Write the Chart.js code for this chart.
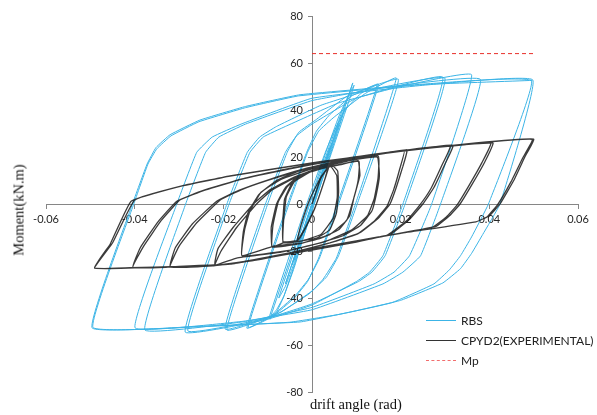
<!DOCTYPE html>
<html lang="en">
<head>
  <meta charset="UTF-8">
  <title>Moment vs drift angle</title>
  <script src="https://cdn.jsdelivr.net/npm/chart.js"></script>
  <style>
    body { margin: 0; background: #fff; }
    .wrap { position: relative; width: 597px; height: 415px; }
    .ytitle, .xtitle {
      position: absolute;
      font-family: "Liberation Serif", "DejaVu Serif", serif;
      font-size: 14.5px;
      color: #111;
      white-space: nowrap;
    }
    .ytitle { left: 19px; top: 210px; transform: translate(-50%, -50%) rotate(-90deg); }
    .xtitle { left: 310px; top: 396px; }
    .legend { position: absolute; left: 426px; top: 304px; font-family: Lato, "Liberation Sans", sans-serif; font-size: 12px; color: #222; }
    .legend div { height: 33px; display: flex; align-items: center; margin-top: -13px; }
    .legend div:first-child { margin-top: 0; }
    .legend span.line { display: inline-block; width: 30px; margin-right: 5px; border-top: 1px solid; }
  </style>
</head>
<body>
  <div class="wrap">
    <canvas id="chart" width="597" height="415"></canvas>
    <div class="ytitle">Moment(kN.m)</div>
    <div class="xtitle">drift angle (rad)</div>
    <div class="legend">
      <div><span class="line" style="border-color:#3cb4e6"></span>RBS</div>
      <div><span class="line" style="border-color:#333"></span>CPYD2(EXPERIMENTAL)</div>
      <div><span class="line" style="border-top:1px dashed #f26d6d"></span>Mp</div>
    </div>
  </div>

  <script>
    // RBS (blue) – [drift angle, moment], cycle by cycle
    const rbsSmall = [[0, 0], [0.004, 24], [-0.004, -24], [0.0045, 26], [-0.0045, -26], [0.006, 34], [-0.006, -34],
      [0.005, 29], [0.0065, 37], [0.0075, 41], [0.0005, 0], [-0.004, -25], [-0.006, -35], [-0.0075, -40]];
    const rbs010 = [[-0.0005, 0], [0.004, 25], [0.0065, 38], [0.008, 45], [0.0092, 51.5],
      [0.0003, 0], [-0.004, -27], [-0.0065, -40], [-0.008, -46], [-0.0095, -49],
      [-0.0007, 0], [0.0035, 24], [0.006, 37], [0.0078, 44.5], [0.0095, 50.5],
      [0.0005, 0], [-0.0038, -25], [-0.0063, -39], [-0.008, -45], [-0.0097, -48.5]];
    const rbs015 = [[-0.0012, 0], [0.003, 22], [0.005, 31], [0.0075, 40], [0.011, 47], [0.0147, 50.6],
      [0.0057, 0], [0.0015, -23], [-0.001, -33], [-0.004, -40], [-0.009, -48], [-0.0147, -52.8],
      [-0.0055, 0], [-0.0012, 22], [0.001, 31], [0.004, 38], [0.009, 46], [0.015, 51],
      [0.006, 0], [0.0017, -23], [-0.0008, -32], [-0.0038, -39], [-0.009, -47.5], [-0.0144, -52.5]];
    const rbs020 = [[-0.0052, 0], [-0.001, 22], [0.0015, 31], [0.005, 37], [0.012, 47], [0.019, 53.6],
      [0.0098, 0], [0.0055, -23], [0.0025, -32], [-0.0005, -38], [-0.008, -47], [-0.0192, -53.6],
      [-0.01, 0], [-0.0056, 22], [-0.003, 30.5], [0.001, 36], [0.008, 46], [0.0195, 53],
      [0.0102, 0], [0.006, -22], [0.0033, -31], [0.0, -37], [-0.007, -46], [-0.0196, -53.2]];
    const rbs030 = [[-0.0105, 0], [-0.006, 22], [-0.0035, 29], [0.0, 34], [0.01, 45], [0.0295, 54],
      [0.0205, 0], [0.016, -22], [0.013, -29], [0.01, -33], [0.0, -43], [-0.01, -49], [-0.0286, -54.5],
      [-0.0192, 0], [-0.0146, 22], [-0.0118, 28.5], [-0.008, 33], [0.002, 42], [0.013, 48.5], [0.03, 53.5],
      [0.021, 0], [0.0165, -22], [0.0135, -29], [0.0105, -33], [0.0, -42.5], [-0.01, -48.5], [-0.028, -54]];
    const rbs040 = [[-0.0187, 0], [-0.014, 22], [-0.011, 28.5], [-0.006, 33], [0.006, 43], [0.02, 50], [0.036, 55],
      [0.027, 0], [0.022, -22], [0.0185, -29], [0.014, -34], [0.0, -44], [-0.015, -50], [-0.0377, -53.6],
      [-0.0285, 0], [-0.024, 22], [-0.021, 28.5], [-0.015, 34], [0.0, 44], [0.018, 50], [0.038, 53],
      [0.029, 0], [0.0245, -22], [0.0205, -29], [0.016, -34], [0.0, -45], [-0.016, -50], [-0.0399, -52.7]];
    const rbs050 = [[-0.0305, 0], [-0.026, 22], [-0.0225, 28.5], [-0.016, 34], [0.0, 45], [0.025, 50.5], [0.0498, 52.8],
      [0.0424, 0], [0.0385, -13], [0.036, -21], [0.0335, -27.5], [0.0295, -33.6], [0.02, -41], [0.0086, -46], [-0.0027, -50.2], [-0.025, -52], [-0.0496, -52.7],
      [-0.0405, 0], [-0.0372, 17], [-0.0352, 24], [-0.032, 29.5], [-0.0253, 35.7], [-0.015, 41.5], [-0.0027, 46.5], [0.025, 51], [0.0495, 52.4],
      [0.0398, 0], [0.036, -14], [0.0335, -22], [0.031, -28], [0.0275, -34], [0.018, -42], [0.006, -47], [-0.005, -50.3], [-0.025, -52.2], [-0.0494, -52.5],
      [-0.0402, 0], [-0.037, 17], [-0.035, 23.5], [-0.0318, 29], [-0.0255, 35], [-0.015, 41], [-0.003, 46], [0.025, 50.8], [0.0497, 52.6]];

    // CPYD2 experimental (black)
    const cpydSmall = [[0, 0], [0.002, 11], [0.0038, 16], [0.003, 11], [0.0008, -1], [-0.0015, -10], [-0.0034, -16],
      [-0.0025, -9], [-0.0005, 2], [0.002, 11.5], [0.0036, 15.5], [0.0028, 10], [0.0006, -2], [-0.0017, -11], [-0.0032, -15.5]];
    const cpyd006 = [[-0.0065, -16], [-0.0066, -8], [-0.0062, 2], [-0.0045, 9], [-0.0025, 12.5], [0.001, 15], [0.0045, 16.5],
      [0.0058, 14], [0.006, 5], [0.0055, -4], [0.004, -11], [0.001, -14.5], [-0.003, -16], [-0.0065, -16.5],
      [-0.0064, -7], [-0.0058, 3], [-0.004, 9.5], [0.0, 14], [0.0042, 16], [0.0056, 12], [0.0057, 3], [0.0048, -6], [0.002, -13], [-0.0025, -15.8], [-0.0062, -16.3]];
    const cpyd010 = [[-0.009, -18.3], [-0.0092, -10], [-0.008, 0], [-0.006, 7], [-0.003, 12], [0.002, 15], [0.007, 17], [0.0104, 18.5],
      [0.0108, 12], [0.0095, 3], [0.0085, -5], [0.006, -11], [0.002, -14.5], [-0.003, -17], [-0.009, -18.3],
      [-0.0088, -9], [-0.0076, 1], [-0.0055, 7.5], [-0.002, 12.5], [0.003, 15.5], [0.0106, 18.2],
      [0.0104, 10], [0.0092, 1], [0.0078, -7], [0.004, -13], [-0.002, -16.5], [-0.0088, -18]];
    const cpyd015 = [[-0.0158, -22], [-0.0155, -12], [-0.0145, -4], [-0.012, 4], [-0.008, 10], [-0.003, 14], [0.004, 17], [0.0147, 20],
      [0.0152, 12], [0.0145, 4], [0.0135, -3], [0.011, -9], [0.007, -13.5], [0.001, -17], [-0.006, -20], [-0.0158, -22],
      [-0.0152, -11], [-0.014, -3], [-0.0115, 5], [-0.007, 10.5], [0.0, 15], [0.0149, 20.5],
      [0.0149, 11], [0.014, 2], [0.0125, -5], [0.009, -11], [0.003, -16], [-0.007, -20.5], [-0.017, -23]];
    const cpyd020 = [[-0.0219, -26], [-0.0205, -20], [-0.017, -10], [-0.0125, 0], [-0.009, 6], [-0.004, 11], [0.003, 16], [0.012, 20], [0.0214, 23],
      [0.0205, 16], [0.019, 7], [0.0176, 0], [0.015, -6], [0.011, -12], [0.005, -16], [-0.002, -19.5], [-0.012, -23.5], [-0.0219, -26],
      [-0.0212, -19], [-0.0178, -10], [-0.0132, 0], [-0.0095, 6], [-0.004, 11.5], [0.003, 16.2], [0.012, 20.2], [0.0208, 22.8],
      [0.0198, 15], [0.0184, 6], [0.0169, -1], [0.0142, -7], [0.0105, -12.5], [0.004, -16.5], [-0.003, -20], [-0.013, -24], [-0.0224, -26.3]];
    const cpyd030 = [[-0.032, -26.8], [-0.03, -18], [-0.026, -8], [-0.0207, 1.7], [-0.016, 6], [-0.01, 10], [-0.002, 14.5], [0.008, 19], [0.02, 22.5], [0.0318, 25],
      [0.03, 17], [0.0275, 7], [0.025, 0], [0.022, -6.5], [0.0176, -13], [0.01, -16], [0.0, -19.5], [-0.0185, -25.5], [-0.032, -26.8],
      [-0.0308, -18.5], [-0.027, -8.5], [-0.0215, 1.2], [-0.0165, 5.8], [-0.01, 10.2], [-0.002, 14.8], [0.008, 19.2], [0.02, 22.7], [0.0312, 24.8],
      [0.0293, 16.5], [0.0268, 6.5], [0.0243, -0.5], [0.0214, -7], [0.017, -13.2], [0.01, -16.2], [0.0, -19.6], [-0.0185, -25.6], [-0.0325, -26.9]];
    const cpyd040 = [[-0.0404, -27], [-0.038, -18], [-0.034, -7], [-0.0298, 1.7], [-0.024, 6], [-0.016, 10.5], [-0.005, 15], [0.005, 18.5], [0.02, 22.5], [0.0408, 26],
      [0.039, 18], [0.036, 8], [0.0334, 0], [0.031, -5], [0.028, -9.5], [0.015, -14], [0.0, -19.2], [-0.0185, -25.5], [-0.03, -26.5], [-0.0404, -27],
      [-0.0387, -18.5], [-0.0347, -7.5], [-0.0305, 1.2], [-0.0245, 5.8], [-0.016, 10.6], [-0.005, 15.2], [0.005, 18.7], [0.02, 22.7], [0.0403, 25.9],
      [0.0383, 17.5], [0.0353, 7.5], [0.0327, -0.5], [0.0303, -5.5], [0.0272, -9.8], [0.015, -14.1], [0.0, -19.3], [-0.0185, -25.6], [-0.03, -26.6], [-0.041, -27.1]];
    const cpyd050 = [[-0.049, -27.3], [-0.045, -16.6], [-0.04, 1.7], [-0.0298, 7.5], [-0.0185, 12], [0.0018, 18], [0.02, 22.5], [0.037, 26], [0.05, 27.6],
      [0.048, 20], [0.0455, 10], [0.0424, 0], [0.04, -5], [0.037, -7.6], [0.02, -12.5], [0.0, -19], [-0.0185, -25.5], [-0.049, -27.3],
      [-0.0455, -17], [-0.0408, 1.2], [-0.0302, 7.3], [-0.0185, 11.9], [0.0018, 17.9], [0.02, 22.4], [0.037, 25.9], [0.0497, 27.5],
      [0.0475, 19.5], [0.0449, 9.5], [0.0418, -0.5], [0.0395, -5.5]];

    // Mp reference line
    const mpDrift = [0, 0.05];
    const mpMoment = [64, 64];

    const toPoints = pairs => pairs.map(([x, y]) => ({ x: x, y: y }));
    const rbsData = toPoints([].concat(rbsSmall, rbs010, rbs015, rbs020, rbs030, rbs040, rbs050));
    const cpydData = toPoints([].concat(cpydSmall, cpyd006, cpyd010, cpyd015, cpyd020, cpyd030, cpyd040, cpyd050));
    const mpData = mpDrift.map((x, i) => ({ x: x, y: mpMoment[i] }));

    const tickFont = { family: 'Lato, "Liberation Sans", sans-serif', size: 11 };

    // y tick labels are drawn next to the centred axis by hand (Chart.js puts them on the line)
    const yLabels = {
      id: 'yLabels',
      afterDraw(chart) {
        const { ctx, scales: { x, y } } = chart;
        const x0 = x.getPixelForValue(0);
        ctx.save();
        ctx.font = '11px Lato, "Liberation Sans", sans-serif';
        ctx.fillStyle = '#262626';
        ctx.textAlign = 'right';
        ctx.textBaseline = 'middle';
        y.ticks.forEach(t => ctx.fillText(String(t.value), x0 - 9, y.getPixelForValue(t.value)));
        ctx.restore();
      }
    };

    new Chart(document.getElementById('chart'), {
      type: 'scatter',
      data: {
        datasets: [
          { label: 'RBS', data: rbsData, showLine: true, borderColor: '#3cb4e6', borderWidth: 1, pointRadius: 0, tension: 0.1, order: 2 },
          { label: 'CPYD2(EXPERIMENTAL)', data: cpydData, showLine: true, borderColor: 'rgba(25,25,25,0.85)', borderWidth: 1.3, pointRadius: 0, tension: 0.1, order: 1 },
          { label: 'Mp', data: mpData, showLine: true, borderColor: '#e8302a', borderWidth: 1, borderDash: [4, 3], pointRadius: 0, order: 0 }
        ]
      },
      options: {
        responsive: false,
        animation: false,
        layout: { padding: { left: 46, right: 19, top: 16, bottom: 23 } },
        plugins: { legend: { display: false }, tooltip: { enabled: false } },
        scales: {
          x: {
            type: 'linear', position: { y: 0 }, min: -0.06, max: 0.06,
            border: { color: '#868686' },
            grid: { drawOnChartArea: false, color: '#868686', tickLength: 4 },
            ticks: { stepSize: 0.02, padding: 5, color: '#262626', font: tickFont, maxRotation: 0,
              callback: v => Math.abs(v) < 1e-9 ? '0' : v.toFixed(2) }
          },
          y: {
            type: 'linear', position: { x: 0 }, min: -80, max: 80,
            border: { color: '#868686' },
            grid: { drawOnChartArea: false, color: '#868686', tickLength: 4 },
            ticks: { stepSize: 20, display: false, font: tickFont }
          }
        }
      },
      plugins: [yLabels]
    });
  </script>
</body>
</html>
